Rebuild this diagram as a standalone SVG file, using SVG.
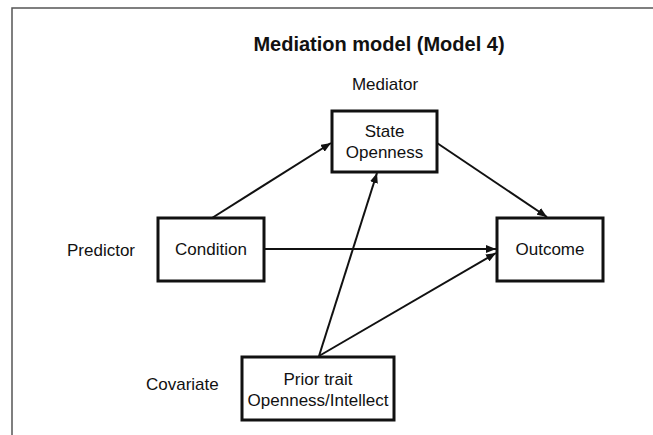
<svg xmlns="http://www.w3.org/2000/svg" width="653" height="435" viewBox="0 0 653 435">
<style>
  .box { fill: #fff; stroke: #111; stroke-width: 3; }
  .lbl { font-family: "Liberation Sans", Arial, sans-serif; font-size: 17px; fill: #111; }
  .mid { text-anchor: middle; }
  .edge { stroke: #111; stroke-width: 2; fill: none; marker-end: url(#ah); }
  .title { font-family: "Liberation Sans", Arial, sans-serif; font-size: 20px; font-weight: bold; fill: #111; text-anchor: middle; }
</style>
<defs>
  <marker id="ah" markerUnits="userSpaceOnUse" markerWidth="10" markerHeight="8" refX="10" refY="4" orient="auto">
    <path d="M0,0 L10,4 L0,8 z" fill="#111"/>
  </marker>
</defs>
<rect width="653" height="435" fill="#fff"/>
<path d="M12,435 L12,8 L653,8" fill="none" stroke="#555" stroke-width="1.5"/>
<text class="title" x="379" y="51">Mediation model (Model 4)</text>
<text class="lbl mid" x="385" y="90">Mediator</text>
<text class="lbl" x="67" y="256">Predictor</text>
<text class="lbl" x="146" y="390">Covariate</text>
<g id="connectors">
  <line class="edge" x1="212" y1="218" x2="331" y2="143"/>
  <line class="edge" x1="437" y1="143" x2="547" y2="217"/>
  <line class="edge" x1="264" y1="249" x2="496" y2="249"/>
  <line class="edge" x1="319" y1="356" x2="377" y2="173"/>
  <line class="edge" x1="319" y1="356" x2="496" y2="253"/>
</g>
<g id="state-openness">
  <rect class="box" x="332" y="111" width="105" height="61"/>
  <text class="lbl mid" x="384.5" y="137">State</text>
  <text class="lbl mid" x="384.5" y="158">Openness</text>
</g>
<g id="condition">
  <rect class="box" x="158" y="218" width="106" height="63"/>
  <text class="lbl mid" x="211" y="255">Condition</text>
</g>
<g id="outcome">
  <rect class="box" x="497" y="218" width="106" height="63"/>
  <text class="lbl mid" x="550" y="255">Outcome</text>
</g>
<g id="prior-trait">
  <rect class="box" x="242" y="357" width="152" height="63"/>
  <text class="lbl mid" x="318" y="385">Prior trait</text>
  <text class="lbl mid" x="318" y="406">Openness/Intellect</text>
</g>
</svg>
